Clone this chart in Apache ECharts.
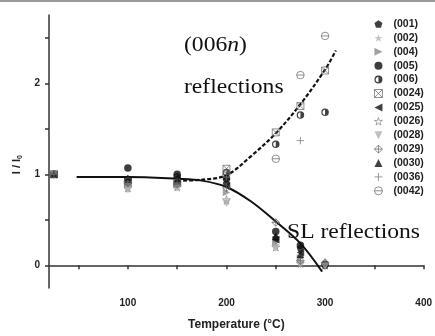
<!DOCTYPE html>
<html>
<head>
<meta charset="utf-8">
<script src="https://cdn.jsdelivr.net/npm/echarts@6/dist/echarts.min.js"></script>
<style>html,body{margin:0;padding:0;background:#fff;}#c{width:435px;height:336px;}</style>
</head>
<body>
<div id="c"></div>
<script>
// ---- data ----
const temps = [25, 100, 150, 200, 250, 275, 300];
const seriesNames = ['(001)','(002)','(004)','(005)','(006)','(0024)','(0025)','(0026)','(0028)','(0029)','(0030)','(0036)','(0042)'];
const v001  = [1.00, 0.95, 0.95, 0.90, 0.30, 0.19, 0.00];
const v002  = [1.00, 0.84, 0.86, 0.70, 0.22, 0.03, null];
const v004  = [1.00, 0.88, 0.88, 0.80, 0.25, 0.08, null];
const v005  = [1.00, 1.07, 1.00, 0.95, 0.37, 0.22, 0.01];
const v006  = [1.00, 0.94, 0.97, 1.02, 1.33, 1.65, 1.68];
const v0024 = [1.00, 0.90, 0.90, 1.06, 1.46, 1.75, 2.14];
const v0025 = [1.00, 0.93, 0.92, 0.87, 0.28, 0.14, null];
const v0026 = [1.00, 0.85, 0.86, 0.72, 0.20, 0.02, 0.00];
const v0028 = [1.00, 0.83, 0.85, 0.68, 0.19, 0.01, -0.01];
const v0029 = [1.00, 0.90, 0.89, 0.85, 0.47, 0.05, 0.03];
const v0030 = [1.00, 0.95, 0.93, 0.98, 0.32, 0.12, null];
const v0036 = [1.00, 0.90, 0.90, 0.97, null, 1.37, null];
const v0042 = [1.00, 0.92, 0.91, 1.00, 1.17, 2.09, 2.52];
const seriesValues = [v001,v002,v004,v005,v006,v0024,v0025,v0026,v0028,v0029,v0030,v0036,v0042];

// guide curves
const slCurveX = [48, 100, 150, 175, 200, 225, 250, 275, 297];
const slCurveY = [0.97, 0.97, 0.95, 0.93, 0.86, 0.70, 0.48, 0.24, -0.07];
const nCurveX  = [150, 175, 200, 225, 250, 275, 300, 311];
const nCurveY  = [0.93, 0.94, 0.99, 1.20, 1.45, 1.77, 2.15, 2.36];

// ticks
const xTickValues  = [50, 100, 150, 200, 250, 300, 350, 400];
const xLabelValues = [100, 200, 300, 400];
const yTickValues  = [0, 0.5, 1, 1.5, 2, 2.5];
const yLabelValues = [0, 1, 2];

// ---- styles ----
const S = {
  pent: 'path://M0,-1L0.951,-0.309L0.588,0.809L-0.588,0.809L-0.951,-0.309Z',
  star: 'path://M0,-1L0.225,-0.309L0.951,-0.309L0.363,0.118L0.588,0.809L0,0.382L-0.588,0.809L-0.363,0.118L-0.951,-0.309L-0.225,-0.309Z',
  triR: 'path://M-1,-1L1,0L-1,1Z',
  triL: 'path://M1,-1L-1,0L1,1Z',
  triD: 'path://M-1,-1L1,-1L0,1Z',
  half: 'path://M0,-1A1,1,0,1,1,0,1A1,1,0,1,1,0,-1Z M0,-0.68A0.68,0.68,0,1,0,0,0.68A0.68,0.68,0,1,0,0,-0.68Z M0,-0.68A0.68,0.68,0,0,1,0,0.68Z',
  sqX: 'path://M-1,-1L1,-1L1,1L-1,1Z M-1,-1L1,1 M1,-1L-1,1',
  diaX: 'path://M0,-1L1,0L0,1L-1,0Z M0,-1L0,1 M-1,0L1,0',
  plus: 'path://M0,-1L0,1M-1,0L1,0',
  circH: 'path://M-1,0A1,1,0,1,1,1,0A1,1,0,1,1,-1,0Z M-1,0L1,0'
};
const none = 'rgba(0,0,0,0)';
const markerStyles = [
  {symbol: S.pent, size: 7.5, item: {color: '#111'}},
  {symbol: S.star, size: 8, item: {color: '#b5b5b5'}},
  {symbol: S.triR, size: 7.5, item: {color: '#8a8a8a'}},
  {symbol: 'circle', size: 7.5, item: {color: '#0d0d0d'}},
  {symbol: S.half, size: 7.5, item: {color: '#111'}},
  {symbol: S.sqX, size: 7, item: {color: none, borderColor: '#666', borderWidth: 0.9}},
  {symbol: S.triL, size: 7.5, item: {color: '#111'}},
  {symbol: S.star, size: 8, item: {color: none, borderColor: '#777', borderWidth: 0.8}},
  {symbol: S.triD, size: 7.5, item: {color: '#b0b0b0'}},
  {symbol: S.diaX, size: 7.5, item: {color: none, borderColor: '#666', borderWidth: 0.9}},
  {symbol: 'triangle', size: 7.5, item: {color: '#111'}},
  {symbol: S.plus, size: 7.5, item: {color: none, borderColor: '#777', borderWidth: 0.9}},
  {symbol: S.circH, size: 7.5, item: {color: none, borderColor: '#666', borderWidth: 0.9}}
];

const scatterSeries = seriesNames.map((name, i) => ({
  name: name,
  type: 'scatter',
  symbol: markerStyles[i].symbol,
  symbolSize: markerStyles[i].size,
  itemStyle: markerStyles[i].item,
  data: temps.map((t, j) => seriesValues[i][j] === null ? null : [t, seriesValues[i][j]]).filter(d => d !== null),
  z: 3 + i * 0.01
}));

const legendData = seriesNames.map((name, i) => ({
  name: name,
  itemStyle: {
    color: markerStyles[i].item.color,
    borderColor: markerStyles[i].item.borderColor || none,
    borderWidth: markerStyles[i].item.borderWidth || 0
  }
}));

const axisFont = {fontFamily: 'Liberation Sans', fontWeight: 'bold', color: '#222'};
const serif = 'Liberation Serif';

const chart = echarts.init(document.getElementById('c'), null, {renderer: 'canvas'});
chart.setOption({
  animation: false,
  backgroundColor: '#fff',
  grid: {left: 49, right: 11, top: 15, bottom: 42},
  xAxis: {
    type: 'value', min: 20, max: 400,
    name: 'Temperature (°C)', nameLocation: 'middle', nameGap: 31,
    nameTextStyle: Object.assign({fontSize: 12}, axisFont),
    axisLine: {lineStyle: {color: '#333', width: 1.5}},
    axisTick: {customValues: xTickValues, length: 4, lineStyle: {color: '#333', width: 1.5}},
    axisLabel: Object.assign({customValues: xLabelValues, fontSize: 10, margin: 10}, axisFont),
    splitLine: {show: false}
  },
  yAxis: {
    type: 'value', min: -0.25, max: 2.75,
    axisLine: {show: true, lineStyle: {color: '#333', width: 1.5}},
    axisTick: {show: true, customValues: yTickValues, length: 4, lineStyle: {color: '#333', width: 1.5}},
    axisLabel: Object.assign({customValues: yLabelValues, fontSize: 10, margin: 9}, axisFont),
    splitLine: {show: false}
  },
  legend: {
    data: legendData,
    orient: 'vertical', left: 369, top: 13,
    itemWidth: 8, itemHeight: 8, itemGap: 1.9,
    textStyle: {fontFamily: 'Liberation Sans', fontWeight: 'bold', fontSize: 10.5, color: '#222', lineHeight: 12, padding: [0, 0, 0, 6]}
  },
  graphic: [
    {type: 'rect', left: 0, top: 0, shape: {width: 435, height: 2}, style: {fill: '#9a9a9a'}, silent: true},
    {type: 'text', left: 11, top: 155, rotation: Math.PI / 2,
      style: {text: '{a|I / I}{b|0}', rich: {a: {fontFamily: 'Liberation Sans', fontWeight: 'bold', fontSize: 11, fill: '#222'}, b: {fontFamily: 'Liberation Sans', fontWeight: 'bold', fontSize: 7, fill: '#222', padding: [7, 0, 0, 0]}}}},
    {type: 'text', left: 184, top: 36, scaleX: 1.18,
      style: {text: '{a|(006}{b|n}{a|)}', rich: {a: {fontFamily: serif, fontSize: 20, fill: '#111'}, b: {fontFamily: serif, fontStyle: 'italic', fontSize: 20, fill: '#111'}}}},
    {type: 'text', left: 184, top: 78, scaleX: 1.18,
      style: {text: 'reflections', fontFamily: serif, fontSize: 20, fill: '#111'}},
    {type: 'text', left: 287, top: 223, scaleX: 1.18,
      style: {text: 'SL reflections', fontFamily: serif, fontSize: 20, fill: '#111'}}
  ],
  series: scatterSeries.concat([
    {type: 'line', name: 'SL fit', data: slCurveX.map((x, i) => [x, slCurveY[i]]), smooth: 0.35, symbol: 'none',
      lineStyle: {color: '#111', width: 2}, z: 2},
    {type: 'line', name: '006n fit', data: nCurveX.map((x, i) => [x, nCurveY[i]]), smooth: 0.35, symbol: 'none',
      lineStyle: {color: '#111', width: 2.2, type: [4, 2]}, z: 2}
  ])
});
</script>
</body>
</html>
